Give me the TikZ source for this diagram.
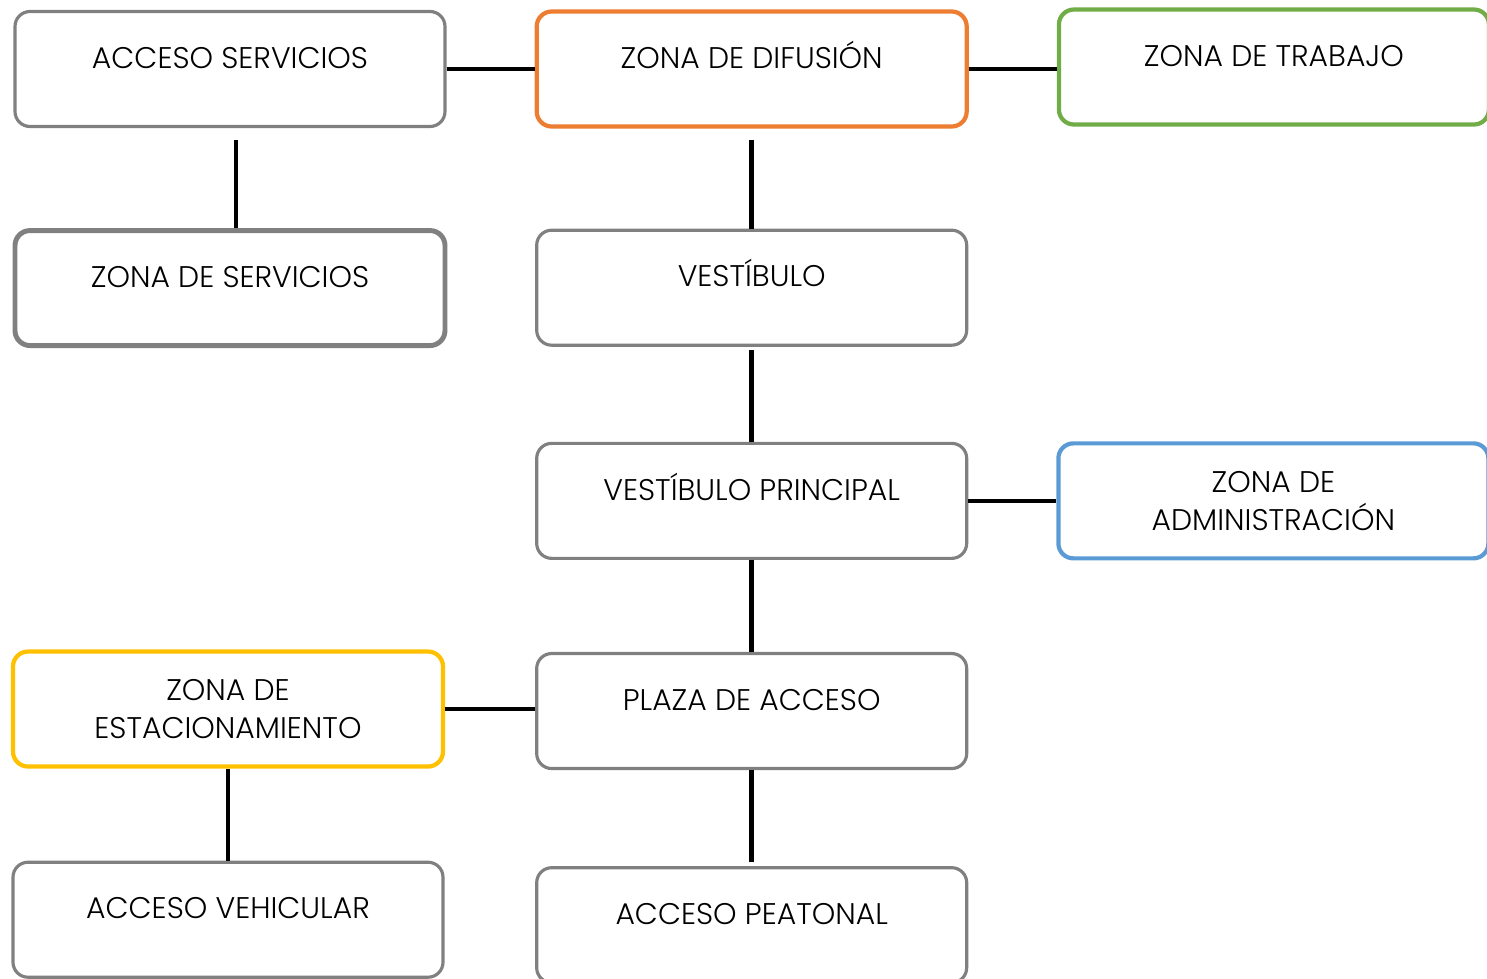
\documentclass[tikz,border=0pt]{standalone}
\usepackage{fontspec}
\setmainfont{Poppins}[UprightFont={* Light}]
\usepackage{tikz}
\usetikzlibrary{positioning}
\definecolor{grisborde}{RGB}{128, 128, 128}
\definecolor{naranja}{RGB}{237, 125, 49}
\definecolor{verde}{RGB}{112, 173, 71}
\definecolor{azul}{RGB}{91, 155, 213}
\definecolor{amarillo}{RGB}{255, 192, 0}

\begin{document}
\begin{tikzpicture}[
    node distance=1.9cm and 1.8cm,
    zona/.style={rectangle, draw=grisborde, fill=white, rounded corners=0.3cm, line width=1.8pt, align=center, minimum width=8.6cm, minimum height=2.3cm, inner sep=0pt, font=\fontsize{17}{21.5}\selectfont},
    arriba/.style={text height=0.42cm, text depth=0.45cm},
    grisbox/.style={zona, arriba},
    naranjabox/.style={zona, arriba, draw=naranja, line width=2.4pt},
    verdebox/.style={zona, arriba, draw=verde, line width=2.4pt},
    azulbox/.style={zona, draw=azul, line width=2.4pt},
    amarillobox/.style={zona, draw=amarillo, line width=2.4pt},
    enlace/.style={line width=2.6pt, black}
]
\useasboundingbox (0,0) rectangle (29.74,-19.56);

% Fila superior
\node[grisbox] (accserv) at (4.6,-1.38) {ACCESO SERVICIOS};
\node[naranjabox, right=1.76cm of accserv] (difusion) {ZONA DE DIFUSIÓN};
\node[verdebox, right=1.76cm of difusion, yshift=0.04cm] (trabajo) {ZONA DE TRABAJO};

% Segunda fila
\node[grisbox, line width=2.8pt, below=2.0cm of accserv] (zservicios) {ZONA DE SERVICIOS};
\node[grisbox, below=2.0cm of difusion] (vestibulo) {VESTÍBULO};

% Vestibulo principal
\node[grisbox, below=1.9cm of vestibulo] (vestprin) {VESTÍBULO PRINCIPAL};
\node[azulbox, right=1.76cm of vestprin] (admin) {ZONA DE\\ADMINISTRACIÓN};

% Plaza
\node[grisbox, below=1.84cm of vestprin] (plaza) {PLAZA DE ACCESO};
\node[amarillobox, left=1.8cm of plaza, yshift=0.04cm] (estac) {ZONA DE\\ESTACIONAMIENTO};

% Accesos
\node[grisbox, below=1.84cm of estac] (vehicular) {ACCESO VEHICULAR};
\node[grisbox, below=1.92cm of plaza] (peatonal) {ACCESO PEATONAL};

% Conexiones
\draw[enlace] (accserv) -- (difusion);
\draw[enlace] (difusion) -- (trabajo.west |- difusion);
\draw[enlace, shorten <=0.24cm] ([xshift=0.12cm]accserv.south) -- ([xshift=0.12cm]zservicios.north);
\draw[enlace, shorten <=0.22cm] (difusion) -- (vestibulo);
\draw[enlace, shorten <=0.06cm] (vestibulo) -- (vestprin);
\draw[enlace] (vestprin) -- (admin.west |- vestprin);
\draw[enlace] (vestprin) -- (plaza);
\draw[enlace] (estac) -- (plaza.west |- estac);
\draw[enlace] (estac) -- (vehicular);
\draw[enlace, shorten >=0.08cm] (plaza) -- (peatonal);

\end{tikzpicture}
\end{document}
